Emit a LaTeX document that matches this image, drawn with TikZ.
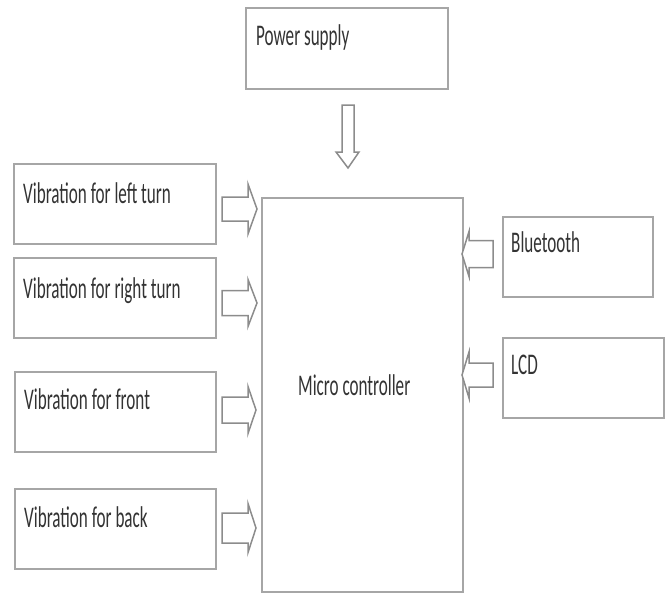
\documentclass[tikz,border=0pt]{standalone}
\usepackage{fontspec}
\setmainfont{Carlito}
\begin{document}
\begin{tikzpicture}[x=1pt,y=-1pt,
  box/.style={draw=black!35,line width=2pt,fill=white,inner sep=0pt,anchor=north west},
  txt/.style={anchor=base west,inner sep=0pt,text=black!80,font=\fontsize{30}{36}\selectfont},
  arr/.style={draw=black!45,line width=1.5pt,fill=white,line join=miter}]
\useasboundingbox (0,0) rectangle (666,592);
\newcommand\cond[1]{\scalebox{0.57}[1]{#1}}
% boxes
\node[box,minimum width=202pt,minimum height=81pt] (ps) at (245,7) {};
\node[box,minimum width=201pt,minimum height=394pt] (mc) at (261,197) {};
\node[box,minimum width=202pt,minimum height=80pt] (vl) at (13,163) {};
\node[box,minimum width=202pt,minimum height=80pt] (vr) at (13,257) {};
\node[box,minimum width=201pt,minimum height=80pt] (vf) at (14,371) {};
\node[box,minimum width=201pt,minimum height=80pt] (vb) at (14,488) {};
\node[box,minimum width=150pt,minimum height=80pt] (bt) at (502,216) {};
\node[box,minimum width=161pt,minimum height=80pt] (lcd) at (502,337) {};
% texts
\node[txt] (tps) at (256,45) {\cond{Power supply}};
\node[txt] (tmc) at (298,395) {\cond{Micro controller}};
\node[txt] (tvl) at (23,203) {\cond{Vibration for left turn}};
\node[txt] (tvr) at (23,298) {\cond{Vibration for right turn}};
\node[txt] (tvf) at (24,409) {\cond{Vibration for front}};
\node[txt] (tvb) at (24,527) {\cond{Vibration for back}};
\node[txt] (tbt) at (511,252) {\cond{Bluetooth}};
\node[txt] (tlcd) at (511,374) {\cond{LCD}};
% block arrows pointing right: x-start, tip, head base, y-centre, half shaft, half head
\newcommand\barR[6]{\draw[arr] (#1,#4-#5) -- (#3,#4-#5) -- (#3,#4-#6) -- (#2,#4) -- (#3,#4+#6) -- (#3,#4+#5) -- (#1,#4+#5) -- cycle;}
\barR{222}{257}{248}{209}{12}{25}
\barR{222}{257}{248}{303}{12.5}{23.5}
\barR{222}{256}{248}{410}{13}{23.5}
\barR{222}{256}{248}{528}{15}{24.5}
% pointing left
\barR{493}{462}{469}{254}{13.5}{22.5}
\barR{493}{462}{469}{375}{12}{23}
% pointing down
\draw[arr] (342,105) -- (354,105) -- (354,152) -- (359,152) -- (348,168) -- (336,152) -- (342,152) -- cycle;
\end{tikzpicture}
\end{document}
